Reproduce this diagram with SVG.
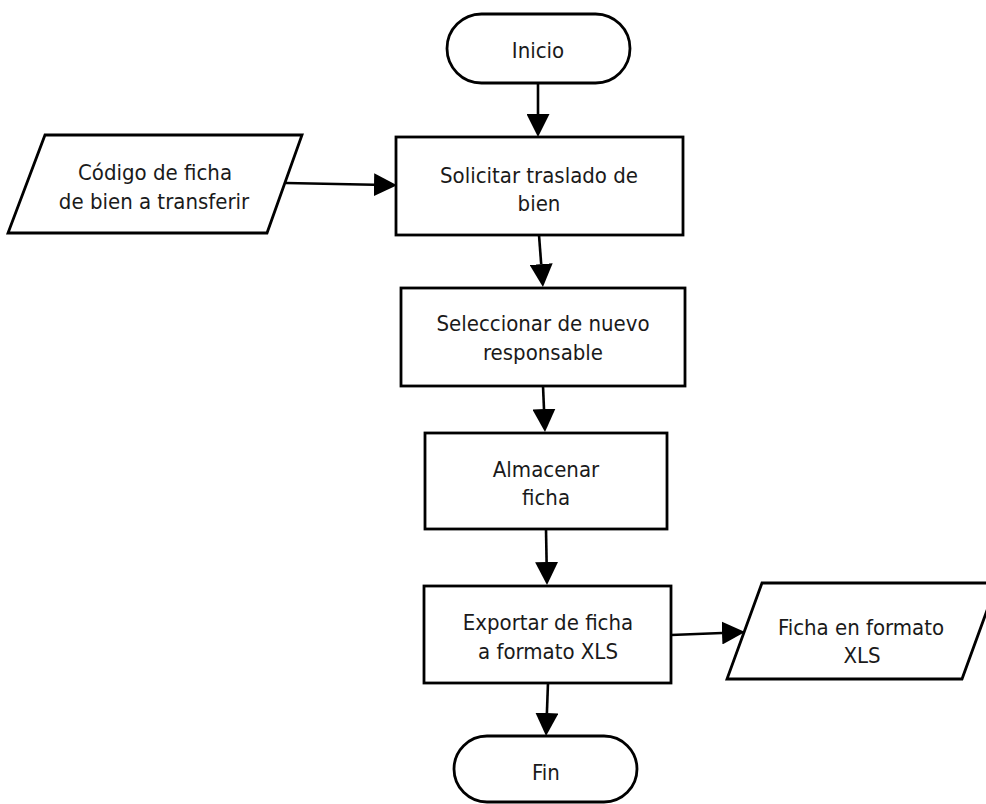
<svg xmlns="http://www.w3.org/2000/svg" width="986" height="804" viewBox="0 0 986 804">
<style>
.shape{fill:#fff;stroke:#000;stroke-width:2.8}
.t{font-family:"DejaVu Sans Condensed","DejaVu Sans",Verdana,sans-serif;font-stretch:condensed;font-size:22px;fill:#1a1a1a;text-anchor:middle}
.c{fill:none;stroke:#000;stroke-width:2.6}
</style>
<defs>
<marker id="ah" markerUnits="userSpaceOnUse" markerWidth="23" markerHeight="23" refX="0" refY="11.5" orient="auto" viewBox="0 0 23 23">
<path d="M0,0 L23,11.5 L0,23 z" fill="#000"/>
</marker>
</defs>
<rect width="986" height="804" fill="#fff"/>
<g id="connectors">
<line class="c" x1="538" y1="83" x2="538" y2="114" marker-end="url(#ah)"/>
<line class="c" x1="286" y1="183" x2="374" y2="184.7" marker-end="url(#ah)"/>
<line class="c" x1="539" y1="235" x2="541.2" y2="264.1" marker-end="url(#ah)"/>
<line class="c" x1="543" y1="386" x2="544" y2="409" marker-end="url(#ah)"/>
<line class="c" x1="546" y1="529" x2="546.6" y2="562" marker-end="url(#ah)"/>
<line class="c" x1="548" y1="683" x2="546.9" y2="713" marker-end="url(#ah)"/>
<line class="c" x1="671" y1="635" x2="722" y2="633" marker-end="url(#ah)"/>
</g>
<g id="inicio">
<rect class="shape" x="447" y="14" width="183" height="69" rx="34.5" ry="34.5"/>
<text class="t" x="538" y="58">Inicio</text>
</g>
<g id="codigo">
<polygon class="shape" points="45,135 302,135 267,233 8,233"/>
<text class="t" x="155" y="180">Código de ficha</text>
<text class="t" x="154" y="209">de bien a transferir</text>
</g>
<g id="solicitar">
<rect class="shape" x="396" y="137" width="287" height="98"/>
<text class="t" x="539" y="183">Solicitar traslado de</text>
<text class="t" x="539" y="211">bien</text>
</g>
<g id="seleccionar">
<rect class="shape" x="401" y="288" width="284" height="98"/>
<text class="t" x="543" y="331">Seleccionar de nuevo</text>
<text class="t" x="543" y="360">responsable</text>
</g>
<g id="almacenar">
<rect class="shape" x="425" y="433" width="242" height="96"/>
<text class="t" x="546" y="477">Almacenar</text>
<text class="t" x="546" y="505">ficha</text>
</g>
<g id="exportar">
<rect class="shape" x="424" y="586" width="247" height="97"/>
<text class="t" x="548" y="630">Exportar de ficha</text>
<text class="t" x="548" y="659">a formato XLS</text>
</g>
<g id="ficha-xls">
<polygon class="shape" points="762,583 997,583 962,679 727,679"/>
<text class="t" x="861" y="635">Ficha en formato</text>
<text class="t" x="862" y="663">XLS</text>
</g>
<g id="fin">
<rect class="shape" x="454" y="736" width="183" height="66" rx="33" ry="33"/>
<text class="t" x="546" y="780">Fin</text>
</g>
</svg>
